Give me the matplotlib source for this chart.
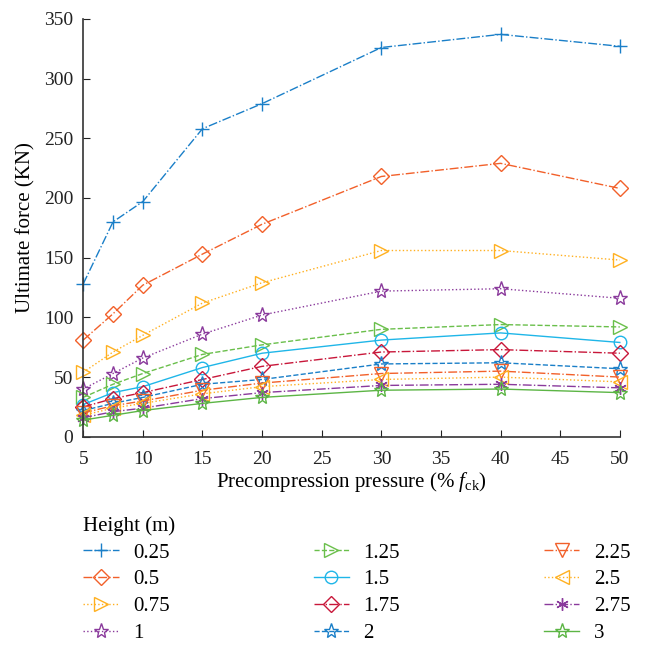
import matplotlib
matplotlib.use('Agg')
import matplotlib.pyplot as plt

plt.rcParams['font.family'] = 'Liberation Serif'
plt.rcParams['mathtext.fontset'] = 'custom'
plt.rcParams['mathtext.rm'] = 'Liberation Serif'
plt.rcParams['mathtext.it'] = 'Liberation Serif:italic'

pressure = [5, 7.5, 10, 15, 20, 30, 40, 50]
heights = ['0.25', '0.5', '0.75', '1', '1.25', '1.5', '1.75', '2', '2.25', '2.5', '2.75', '3']

f_025 = [128, 180, 197, 258, 279, 326, 337, 327]
f_05 = [81, 103, 127, 153, 178, 218, 229, 208]
f_075 = [54, 71, 85, 112, 129, 156, 156, 148]
f_1 = [40, 53, 66, 86, 102, 122, 124, 116]
f_125 = [33, 44, 53, 69, 77, 90, 94, 92]
f_15 = [27, 37, 42, 58, 70, 81, 87, 79]
f_175 = [25, 32, 37, 48, 59, 71, 73, 70]
f_2 = [22, 28, 33, 44, 48, 61, 62, 57]
f_225 = [20, 26, 30, 39, 45, 53, 55, 50]
f_25 = [18, 24, 28, 36, 42, 48, 50, 46]
f_275 = [16, 21, 24, 32, 37, 43, 44, 41]
f_3 = [14, 18, 22, 28, 33, 39, 40, 37]

forces = [f_025, f_05, f_075, f_1, f_125, f_15, f_175, f_2, f_225, f_25, f_275, f_3]

colors = ['#1a7fc8', '#f2602a', '#ffb020', '#8a3a9c', '#6abf4b', '#1fb6e8',
          '#c8173a', '#1a7fc8', '#f2602a', '#ffb020', '#8a3a9c', '#5cb545']
styles = ['-.', '-.', ':', ':', '--', '-', '-.', '--', '-.', ':', '-.', '-']
markers = ['+', 'D', '>', '*', '>', 'o', 'D', '*', 'v', '<', (6, 2, 0), '*']
sizes = [10, 8, 10, 11, 10, 9, 8, 11, 10, 10, 9, 11]

fig = plt.figure(figsize=(6.45, 6.5), dpi=100)
ax = fig.add_axes([0.129, 0.328, 0.832, 0.643])

for h, y, c, ls, m, ms in zip(heights, forces, colors, styles, markers, sizes):
    ax.plot(pressure, y, linestyle=ls, color=c, marker=m, markersize=ms,
            markerfacecolor='none', markeredgecolor=c, markeredgewidth=1.0,
            linewidth=1.0, label=h, clip_on=False)

ax.set_xlim(5, 50)
ax.set_ylim(0, 350)
ax.set_xticks([5, 10, 15, 20, 25, 30, 35, 40, 45, 50])
ax.set_yticks(range(0, 351, 50))
ax.spines['top'].set_visible(False)
ax.spines['right'].set_visible(False)
for s in ['left', 'bottom']:
    ax.spines[s].set_color('#333333')
    ax.spines[s].set_linewidth(1.2)
ax.tick_params(direction='in', length=5, labelsize=14, colors='#222222')
ax.tick_params(axis='x', pad=10)
ax.tick_params(axis='y', pad=7)
ax.set_xlabel(r'Precompression pressure (% $\mathit{f}_{\mathrm{ck}}$)', fontsize=15, labelpad=2)
ax.set_ylabel('Ultimate force (KN)', fontsize=15, labelpad=6)

leg = fig.legend(loc='upper left', bbox_to_anchor=(0.10, 0.235), ncol=3, frameon=False,
                 fontsize=15, title='Height (m)', title_fontsize=15, alignment='left',
                 handlelength=1.7, handletextpad=0.7, columnspacing=6.9, labelspacing=0.35)

plt.savefig('out.png', dpi=100)
plt.close()
